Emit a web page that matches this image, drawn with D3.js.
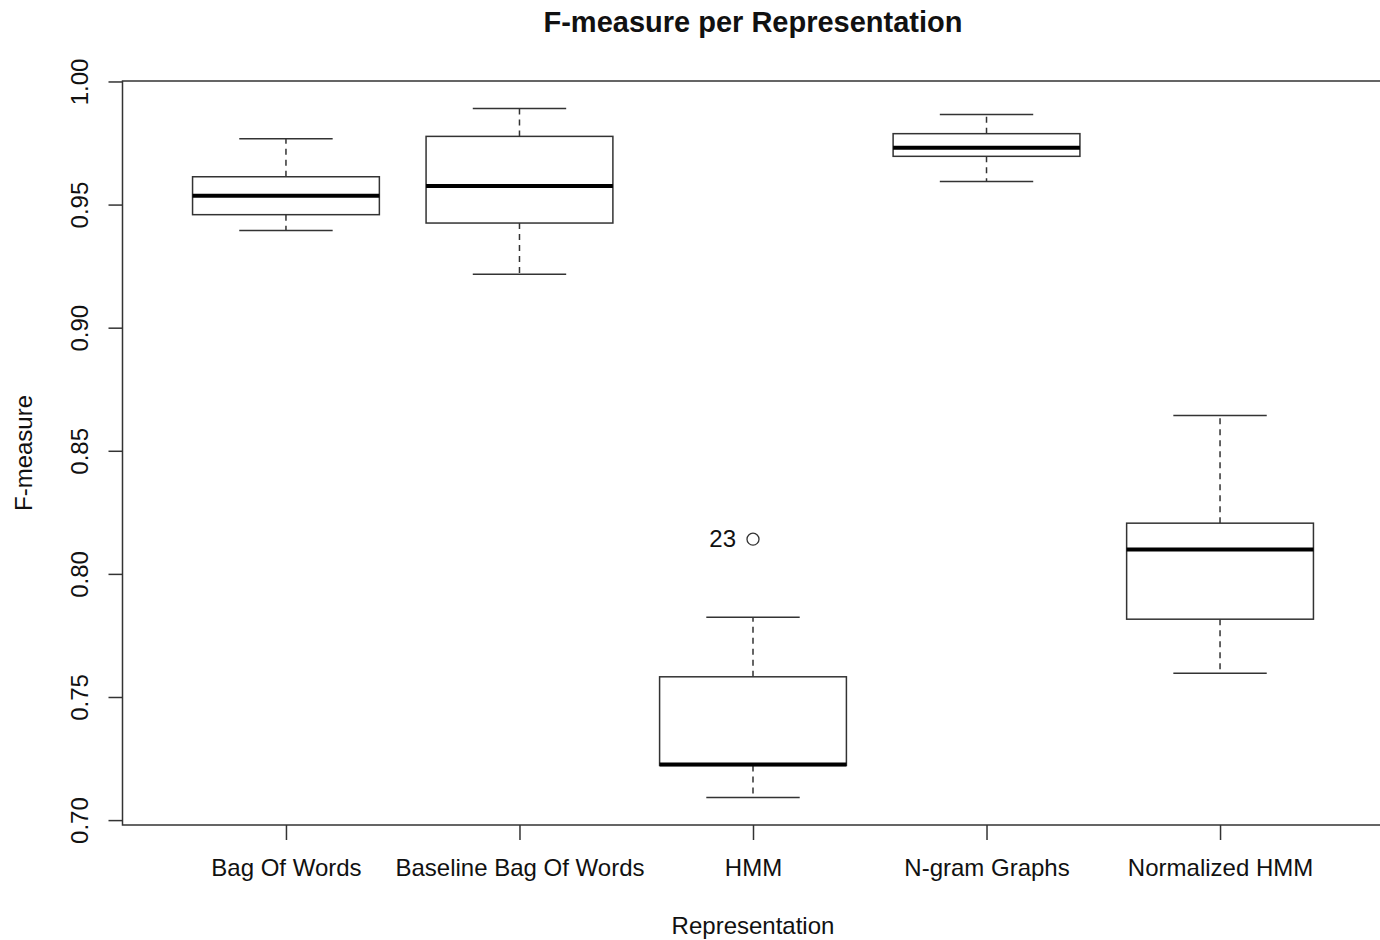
<!DOCTYPE html>
<html>
<head>
<meta charset="utf-8">
<script src="https://cdn.jsdelivr.net/npm/d3@7"></script>
<style>
  body { margin: 0; background: #fff; }
  svg { display: block; font-family: "Liberation Sans", Arial, Helvetica, sans-serif; }
</style>
</head>
<body>
<div id="chart"></div>
<script>
// categories and five-number summaries
var categories = ["Bag Of Words", "Baseline Bag Of Words", "HMM", "N-gram Graphs", "Normalized HMM"];
var whiskerLow  = [0.9395, 0.9217, 0.7092, 0.9594, 0.7596];
var quart1      = [0.9459, 0.9425, 0.7222, 0.9696, 0.7816];
var medians     = [0.9536, 0.9575, 0.7226, 0.9731, 0.8099];
var quart3      = [0.9613, 0.9777, 0.7582, 0.9788, 0.8206];
var whiskerHigh = [0.9767, 0.9890, 0.7824, 0.9866, 0.8643];

// outliers: category index (1-based), value, label
var outlierGroup = [3];
var outlierValue = [0.8141];
var outlierLabel = ["23"];

var yTicks = [0.70, 0.75, 0.80, 0.85, 0.90, 0.95, 1.00];

var width = 1380, height = 940;
var plotLeft = 122.5, plotRight = 1383.5, plotTop = 81, plotBottom = 825;

var svg = d3.select("#chart").append("svg")
    .attr("width", width)
    .attr("height", height);

// R style: 4% extension of the data range
var lo = d3.min(whiskerLow.concat(outlierValue)),
    hi = d3.max(whiskerHigh.concat(outlierValue));
var ext = (hi - lo) * 0.04;

var y = d3.scaleLinear()
    .domain([lo - ext, hi + ext])
    .range([plotBottom, plotTop]);

var x = d3.scaleLinear()
    .domain([0.3, categories.length + 0.7])
    .range([plotLeft, plotRight]);

var unit = x(2) - x(1);

// frame
svg.append("rect")
    .attr("x", plotLeft)
    .attr("y", plotTop)
    .attr("width", plotRight - plotLeft)
    .attr("height", plotBottom - plotTop)
    .attr("fill", "none")
    .attr("stroke", "#333")
    .attr("stroke-width", 1.5);

var data = categories.map(function(c, i) {
    return {
        name: c, pos: i + 1,
        lw: whiskerLow[i], q1: quart1[i], med: medians[i],
        q3: quart3[i], hw: whiskerHigh[i]
    };
});

var boxes = svg.append("g")
    .selectAll("g")
    .data(data)
    .enter()
    .append("g");

// whiskers
boxes.append("line")
    .attr("x1", d => x(d.pos)).attr("x2", d => x(d.pos))
    .attr("y1", d => y(d.q3)).attr("y2", d => y(d.hw))
    .attr("stroke", "#333").attr("stroke-width", 1.5)
    .attr("stroke-dasharray", "6,5");

boxes.append("line")
    .attr("x1", d => x(d.pos)).attr("x2", d => x(d.pos))
    .attr("y1", d => y(d.q1)).attr("y2", d => y(d.lw))
    .attr("stroke", "#333").attr("stroke-width", 1.5)
    .attr("stroke-dasharray", "6,5");

// caps
boxes.append("line")
    .attr("x1", d => x(d.pos - 0.2)).attr("x2", d => x(d.pos + 0.2))
    .attr("y1", d => y(d.hw)).attr("y2", d => y(d.hw))
    .attr("stroke", "#333").attr("stroke-width", 1.5);

boxes.append("line")
    .attr("x1", d => x(d.pos - 0.2)).attr("x2", d => x(d.pos + 0.2))
    .attr("y1", d => y(d.lw)).attr("y2", d => y(d.lw))
    .attr("stroke", "#333").attr("stroke-width", 1.5);

// box
boxes.append("rect")
    .attr("x", d => x(d.pos - 0.4))
    .attr("y", d => y(d.q3))
    .attr("width", unit * 0.8)
    .attr("height", d => y(d.q1) - y(d.q3))
    .attr("fill", "#fff")
    .attr("stroke", "#333")
    .attr("stroke-width", 1.5);

// median
boxes.append("line")
    .attr("x1", d => x(d.pos - 0.4)).attr("x2", d => x(d.pos + 0.4))
    .attr("y1", d => y(d.med)).attr("y2", d => y(d.med))
    .attr("stroke", "#000").attr("stroke-width", 4);

// outliers
svg.append("g")
    .selectAll("circle")
    .data(outlierValue)
    .enter()
    .append("circle")
    .attr("cx", (d, i) => x(outlierGroup[i]))
    .attr("cy", d => y(d))
    .attr("r", 6)
    .attr("fill", "none")
    .attr("stroke", "#333")
    .attr("stroke-width", 1.3);

svg.append("g")
    .selectAll("text")
    .data(outlierValue)
    .enter()
    .append("text")
    .attr("x", (d, i) => x(outlierGroup[i]) - 17)
    .attr("y", d => y(d) + 8)
    .attr("text-anchor", "end")
    .style("font-size", "24px")
    .attr("fill", "#111")
    .text((d, i) => outlierLabel[i]);

// y axis
var yAxis = svg.append("g")
    .attr("transform", "translate(" + plotLeft + ",0)")
    .call(d3.axisLeft(y).tickValues(yTicks).tickSize(14).tickPadding(0)
        .tickFormat(d3.format(".2f")));

yAxis.select(".domain").remove();
yAxis.selectAll(".tick line").attr("stroke", "#333").attr("stroke-width", 1.5);
yAxis.selectAll(".tick text")
    .attr("transform", "rotate(-90)")
    .attr("x", 0)
    .attr("y", -34.5)
    .attr("dy", null)
    .attr("text-anchor", "middle")
    .attr("fill", "#111")
    .style("font-size", "24px")
    .style("font-family", "'Liberation Sans', Arial, sans-serif");

// x axis
var xAxis = svg.append("g")
    .attr("transform", "translate(0," + plotBottom + ")")
    .call(d3.axisBottom(x).tickValues(d3.range(1, categories.length + 1))
        .tickSize(15).tickPadding(0)
        .tickFormat(d => categories[d - 1]));

xAxis.select(".domain").remove();
xAxis.selectAll(".tick line").attr("stroke", "#333").attr("stroke-width", 1.5);
xAxis.selectAll(".tick text")
    .attr("y", 51)
    .attr("dy", null)
    .attr("fill", "#111")
    .style("font-size", "24px")
    .style("font-family", "'Liberation Sans', Arial, sans-serif");

// titles
svg.append("text")
    .attr("x", (plotLeft + plotRight) / 2)
    .attr("y", 32)
    .attr("text-anchor", "middle")
    .style("font-weight", "bold")
    .style("font-size", "29px")
    .attr("fill", "#111")
    .text("F-measure per Representation");

svg.append("text")
    .attr("x", (plotLeft + plotRight) / 2)
    .attr("y", 934)
    .attr("text-anchor", "middle")
    .style("font-size", "24px")
    .attr("fill", "#111")
    .text("Representation");

svg.append("text")
    .attr("transform", "translate(31.5," + (plotTop + plotBottom) / 2 + ") rotate(-90)")
    .attr("text-anchor", "middle")
    .style("font-size", "24px")
    .attr("fill", "#111")
    .text("F-measure");
</script>
</body>
</html>
